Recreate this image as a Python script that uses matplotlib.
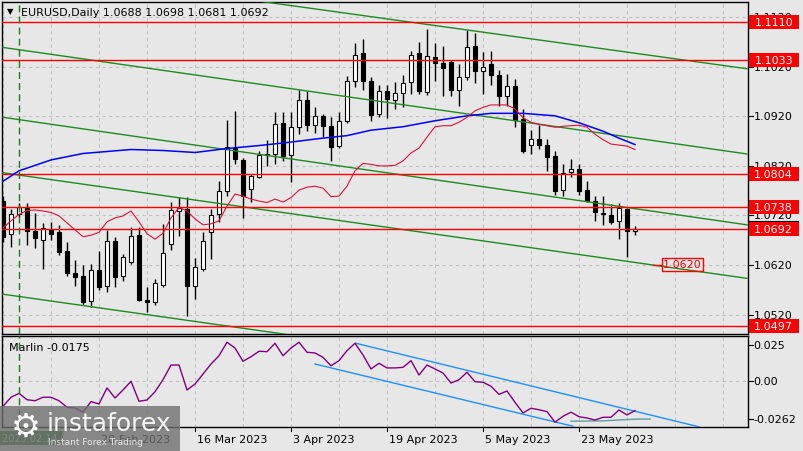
import matplotlib
matplotlib.use('Agg')
import matplotlib.pyplot as plt
import matplotlib.transforms as mtrans
from matplotlib.patches import Rectangle
import numpy as np
import pandas as pd

# ---- daily EURUSD bars ----
dates = pd.bdate_range(end='2023-06-01', periods=80)
opens = [1.0750, 1.0682, 1.0722, 1.0737, 1.0689, 1.0671, 1.0691, 1.0687, 1.0648, 1.0604,
         1.0598, 1.0548, 1.0609, 1.0577, 1.0668, 1.0598, 1.0625, 1.0680, 1.0549, 1.0546,
         1.0580, 1.0662, 1.0728, 1.0733, 1.0578, 1.0612, 1.0686, 1.0722, 1.0769, 1.0857,
         1.0832, 1.0773, 1.0797, 1.0841, 1.0843, 1.0906, 1.0842, 1.0898, 1.0953, 1.0902,
         1.0920, 1.0900, 1.0861, 1.0911, 1.0991, 1.1047, 1.0991, 1.0925, 1.0972, 1.0953,
         1.0968, 1.0990, 1.1048, 1.0970, 1.1039, 1.1027, 1.1029, 1.0974, 1.1000, 1.1061,
         1.1012, 1.1026, 1.1003, 1.0960, 1.0981, 1.0914, 1.0862, 1.0874, 1.0862, 1.0839,
         1.0771, 1.0807, 1.0814, 1.0771, 1.0750, 1.0725, 1.0721, 1.0709, 1.0733, 1.0688]
highs = [1.0760, 1.0733, 1.0745, 1.0745, 1.0724, 1.0705, 1.0707, 1.0701, 1.0666, 1.0630,
         1.0620, 1.0622, 1.0649, 1.0691, 1.0676, 1.0642, 1.0697, 1.0697, 1.0575, 1.0592,
         1.0703, 1.0748, 1.0758, 1.0758, 1.0635, 1.0687, 1.0733, 1.0790, 1.0913, 1.0930,
         1.0835, 1.0804, 1.0851, 1.0872, 1.0928, 1.0928, 1.0928, 1.0974, 1.0972, 1.0938,
         1.0925, 1.0918, 1.0928, 1.1002, 1.1068, 1.1076, 1.0999, 1.0983, 1.0984, 1.0989,
         1.1003, 1.1052, 1.1069, 1.1096, 1.1068, 1.1062, 1.1034, 1.1026, 1.1094, 1.1089,
         1.1050, 1.1052, 1.1013, 1.1005, 1.0996, 1.0935, 1.0893, 1.0902, 1.0874, 1.0849,
         1.0824, 1.0834, 1.0824, 1.0790, 1.0759, 1.0759, 1.0743, 1.0746, 1.0734, 1.0698]
lows = [1.0667, 1.0656, 1.0717, 1.0660, 1.0654, 1.0612, 1.0671, 1.0641, 1.0597, 1.0578,
        1.0540, 1.0535, 1.0569, 1.0566, 1.0575, 1.0588, 1.0622, 1.0547, 1.0526, 1.0540,
        1.0575, 1.0651, 1.0679, 1.0518, 1.0551, 1.0608, 1.0632, 1.0706, 1.0760, 1.0824,
        1.0714, 1.0748, 1.0796, 1.0819, 1.0824, 1.0830, 1.0788, 1.0884, 1.0891, 1.0886,
        1.0878, 1.0830, 1.0856, 1.0907, 1.0979, 1.0974, 1.0910, 1.0918, 1.0917, 1.0935,
        1.0938, 1.0966, 1.0965, 1.0964, 1.0992, 1.0962, 1.0962, 1.0941, 1.0993, 1.0987,
        1.0966, 1.0983, 1.0941, 1.0941, 1.0898, 1.0846, 1.0844, 1.0855, 1.0810, 1.0761,
        1.0760, 1.0797, 1.0761, 1.0748, 1.0709, 1.0701, 1.0702, 1.0672, 1.0637, 1.0681]
closes = [1.0677, 1.0722, 1.0737, 1.0689, 1.0674, 1.0695, 1.0683, 1.0647, 1.0604, 1.0596,
          1.0546, 1.0609, 1.0576, 1.0668, 1.0596, 1.0636, 1.0679, 1.0549, 1.0545, 1.0583,
          1.0644, 1.0731, 1.0735, 1.0578, 1.0615, 1.0668, 1.0721, 1.0769, 1.0859, 1.0834,
          1.0760, 1.0799, 1.0842, 1.0844, 1.0904, 1.0839, 1.0898, 1.0953, 1.0902, 1.0921,
          1.0900, 1.0859, 1.0910, 1.0991, 1.1044, 1.0991, 1.0923, 1.0972, 1.0954, 1.0968,
          1.0987, 1.1044, 1.0972, 1.1041, 1.1027, 1.1017, 1.0974, 1.1000, 1.1059, 1.1012,
          1.1019, 1.1004, 1.0960, 1.0982, 1.0913, 1.0849, 1.0874, 1.0863, 1.0838, 1.0770,
          1.0805, 1.0814, 1.0770, 1.0750, 1.0726, 1.0723, 1.0707, 1.0734, 1.0689, 1.0692]

# moving averages (bar index, price)
blue_ma_idx = [0, 2, 6, 10, 16, 20, 24, 28, 32, 36, 40, 43, 46, 50, 54, 58, 61, 65, 69, 72, 75, 77, 79]
blue_ma_val = [1.0789, 1.0810, 1.0832, 1.0845, 1.0853, 1.0851, 1.0847, 1.0855, 1.0861, 1.0868,
               1.0876, 1.0881, 1.0892, 1.0899, 1.0911, 1.0921, 1.0926, 1.0926, 1.0921, 1.0907,
               1.0890, 1.0876, 1.0863]
red_ma = [1.0695, 1.0709, 1.0722, 1.0730, 1.0731, 1.0729, 1.0726, 1.0719, 1.0705, 1.0691,
          1.0677, 1.0680, 1.0686, 1.0707, 1.0715, 1.0719, 1.0729, 1.0707, 1.0683, 1.0672,
          1.0684, 1.0715, 1.0736, 1.0729, 1.0713, 1.0701, 1.0703, 1.0709, 1.0739, 1.0763,
          1.0759, 1.0753, 1.0749, 1.0746, 1.0753, 1.0747, 1.0756, 1.0771, 1.0777, 1.0779,
          1.0775, 1.0758, 1.0759, 1.0779, 1.0810, 1.0825, 1.0823, 1.0820, 1.0820, 1.0821,
          1.0830, 1.0846, 1.0856, 1.0878, 1.0899, 1.0901, 1.0901, 1.0908, 1.0918, 1.0931,
          1.0938, 1.0943, 1.0943, 1.0943, 1.0935, 1.0917, 1.0908, 1.0904, 1.0901, 1.0898,
          1.0900, 1.0901, 1.0902, 1.0898, 1.0884, 1.0873, 1.0864, 1.0862, 1.0860, 1.0853]

# Marlin oscillator
marlin = [-0.0172, -0.0110, -0.0083, -0.0127, -0.0134, -0.0110, -0.0110, -0.0134, -0.0179, -0.0184,
          -0.0213, -0.0140, -0.0156, -0.0046, -0.0115, -0.0060, 0.0000, -0.0138, -0.0129, -0.0072,
          0.0011, 0.0112, 0.0112, -0.0060, -0.0019, 0.0050, 0.0119, 0.0176, 0.0269, 0.0229,
          0.0138, 0.0169, 0.0207, 0.0204, 0.0262, 0.0176, 0.0229, 0.0269, 0.0200, 0.0195,
          0.0165, 0.0107, 0.0142, 0.0211, 0.0262, 0.0181, 0.0085, 0.0124, 0.0092, 0.0092,
          0.0096, 0.0142, 0.0043, 0.0112, 0.0085, 0.0057, -0.0012, 0.0011, 0.0062, -0.0003,
          -0.0007, -0.0034, -0.0090, -0.0067, -0.0145, -0.0218, -0.0186, -0.0196, -0.0209, -0.0282,
          -0.0241, -0.0213, -0.0244, -0.0253, -0.0267, -0.0248, -0.0248, -0.0198, -0.0232, -0.0202]

# green channel lines: price at bar 0 and bar 93
chan_start = [1.1224, 1.1059, 1.0918, 1.0806, 1.0561]
chan_end = [1.1016, 1.0844, 1.0701, 1.0593, 1.0348]
levels = [1.1110, 1.1033, 1.0804, 1.0738, 1.0692, 1.0497]
target = 1.0620
price_ticks = [1.1120, 1.1020, 1.0920, 1.0820, 1.0720, 1.0620, 1.0520]
marlin_ticks = [0.025, 0.0, -0.0262]
marlin_tick_labels = ['0.025', '0.00', '-0.0262']
# lower panel channel (bar index, value)
m_upper_idx, m_upper_val = [44.1, 87.1], [0.0262, -0.0315]
m_lower_idx, m_lower_val = [39.0, 71.25], [0.0119, -0.0310]
m_flat_idx, m_flat_val = [71.0, 74.8, 79.0, 80.9], [-0.0275, -0.0273, -0.0261, -0.0260]
date_marks = ['2023-02-28', '2023-03-16', '2023-04-03', '2023-04-19', '2023-05-05', '2023-05-23']

BG = '#e7e7e7'
W, H = 804, 452
plt.rcParams['font.family'] = ['DejaVu Sans']
fig = plt.figure(figsize=(W / 100, H / 100), dpi=100, facecolor=BG)
ax = fig.add_axes([2.3 / W, 1 - 335 / H, 745.4 / W, 332.3 / H], facecolor=BG)
ax2 = fig.add_axes([2.3 / W, 1 - 428 / H, 745.4 / W, 91 / H], facecolor=BG)

xs = np.arange(len(dates))
XMIN, XMAX = -0.09, 93.09
for a in (ax, ax2):
    a.set_xlim(XMIN, XMAX)
    a.set_xticks([])
    a.set_yticks([])
    for s in a.spines.values():
        s.set_color('black')
        s.set_linewidth(1.0)
    for g in range(0, 94, 6):
        a.axvline(g, color='#c2c2c2', lw=0.8, ls=(0, (3, 3)), zorder=0)
ax.set_ylim(1.04807, 1.11513)
ax2.set_ylim(-0.0315, 0.0312)
for p in price_ticks:
    ax.axhline(p, color='#c2c2c2', lw=0.8, ls=(0, (3, 3)), zorder=0)
ax2.axhline(0.0, color='#c2c2c2', lw=0.8, ls=(0, (3, 3)), zorder=0)

# candles
o = np.array(opens); c = np.array(closes)
ax.vlines(xs, lows, highs, color='black', lw=1.0, zorder=3)
body_lo = np.minimum(o, c)
body_h = np.maximum(np.abs(c - o), 0.00006)
fills = ['white' if cc >= oo else 'black' for oo, cc in zip(o, c)]
ax.bar(xs, body_h, bottom=body_lo, width=0.6, color=fills, edgecolor='black', lw=0.8, zorder=4)

# channel lines and levels
for p0, p1 in zip(chan_start, chan_end):
    ax.plot([0, 93], [p0, p1], color='#1f8a1f', lw=1.0, zorder=5)
for lv in levels:
    ax.axhline(lv, color='#ff0000', lw=1.0, zorder=5)
ax.plot(blue_ma_idx, blue_ma_val, color='#0000ff', lw=1.1, zorder=6)
ax.plot(xs, red_ma, color='#e0103c', lw=0.8, zorder=6)
for a in (ax, ax2):
    a.axvline(2, color='#1f7a1f', lw=1.0, ls=(0, (5, 3)), zorder=6)

# target note
ax.plot([81.25, 82.4], [target, target], color='red', lw=1.0, zorder=7)
ax.text(84.95, target + 0.0001, '%.4f' % target, color='red', fontsize=8, ha='center', va='center',
        zorder=8, bbox=dict(boxstyle='square,pad=0.12', fc='none', ec='red', lw=1.0))

# right price scale
tr = mtrans.blended_transform_factory(ax.transAxes, ax.transData)
px = 1 / 745.4
for p in price_ticks:
    ax.plot([1.0, 1.0 + 5 * px], [p, p], color='black', lw=0.8, transform=tr, clip_on=False)
    ax.text(1.0 + 6.5 * px, p, '%.4f' % p, fontsize=8, va='center', ha='left', transform=tr, clip_on=False)
box_h = 14 / 4956
for lv in levels:
    ax.add_patch(Rectangle((1.0 + px, lv - box_h / 2), 50 * px, box_h, transform=tr,
                           facecolor='#ff0000', edgecolor='none', clip_on=False, zorder=10))
    ax.text(1.0 + 26 * px, lv, '%.4f' % lv, color='white', fontsize=8, ha='center', va='center',
            transform=tr, clip_on=False, zorder=11)
ax.plot([1.0, 1.0 + 50 * px], [levels[4] + box_h / 2 + 0.0002] * 2, color='black', lw=0.8,
        transform=tr, clip_on=False)

# title
fig.text(10 / W, 1 - 12 / H, '\u25bc', fontsize=6, va='center', ha='center')
fig.text(21 / W, 1 - 12.5 / H, 'EURUSD,Daily %.4f %.4f %.4f %.4f' % (opens[-1], highs[-1], lows[-1], closes[-1]),
         fontsize=8, va='center', ha='left')

# lower panel
ax2.plot(xs, marlin, color='#800080', lw=1.0, zorder=4)
ax2.plot(m_upper_idx, m_upper_val, color='#1e90ff', lw=1.0, zorder=3)
ax2.plot(m_lower_idx, m_lower_val, color='#1e90ff', lw=1.0, zorder=3)
ax2.plot(m_flat_idx, m_flat_val, color='#5f9ea0', lw=1.0, zorder=3)
ax2.text(7 / 745.4, 1 - 11 / 91, 'Marlin -0.0175', fontsize=8, va='center', ha='left', transform=ax2.transAxes)
tr2 = mtrans.blended_transform_factory(ax2.transAxes, ax2.transData)
for v, lab in zip(marlin_ticks, marlin_tick_labels):
    ax2.plot([1.0, 1.0 + 5 * px], [v, v], color='black', lw=0.8, transform=tr2, clip_on=False)
    ax2.text(1.0 + 6 * px, v, lab, fontsize=8, va='center', ha='left', transform=tr2, clip_on=False)

# date axis
trx = mtrans.blended_transform_factory(ax2.transData, ax2.transAxes)
for d in date_marks:
    i = dates.get_loc(pd.Timestamp(d))
    ax2.plot([i, i], [0, -4 / 91], color='black', lw=0.8, transform=trx, clip_on=False)
    dt = dates[i]
    ax2.text(i + 0.3, -12 / 91, '%d %s' % (dt.day, dt.strftime('%b %Y')), fontsize=8,
             va='center', ha='left', transform=trx, clip_on=False)

# crosshair date tag and watermark
fig.patches.append(Rectangle((0, 1 - 446 / H), 63 / W, 14 / H, transform=fig.transFigure,
                             facecolor='#2f7d32', edgecolor='none', zorder=20))
fig.text(2 / W, 1 - 439 / H, '2023.02.14 00:00', fontsize=7, color='#e0e0e0', va='center', zorder=21)
fig.patches.append(Rectangle((0, 0), 180 / W, 45.5 / H, transform=fig.transFigure,
                             facecolor='#6f6f6f', edgecolor='none', alpha=0.8, zorder=22))
fig.text(26 / W, 1 - 427 / H, '\u2699', fontsize=24, color='white', ha='center', va='center', zorder=23)
fig.text(47 / W, 1 - 424 / H, 'instaforex', fontsize=18, color='#f4f4f4', ha='left', va='center', zorder=23)
fig.text(48 / W, 1 - 443 / H, 'Instant Forex Trading', fontsize=6.5, color='#e8e8e8', ha='left',
         va='center', zorder=23)

fig.savefig('out.png', dpi=100, facecolor=BG)
